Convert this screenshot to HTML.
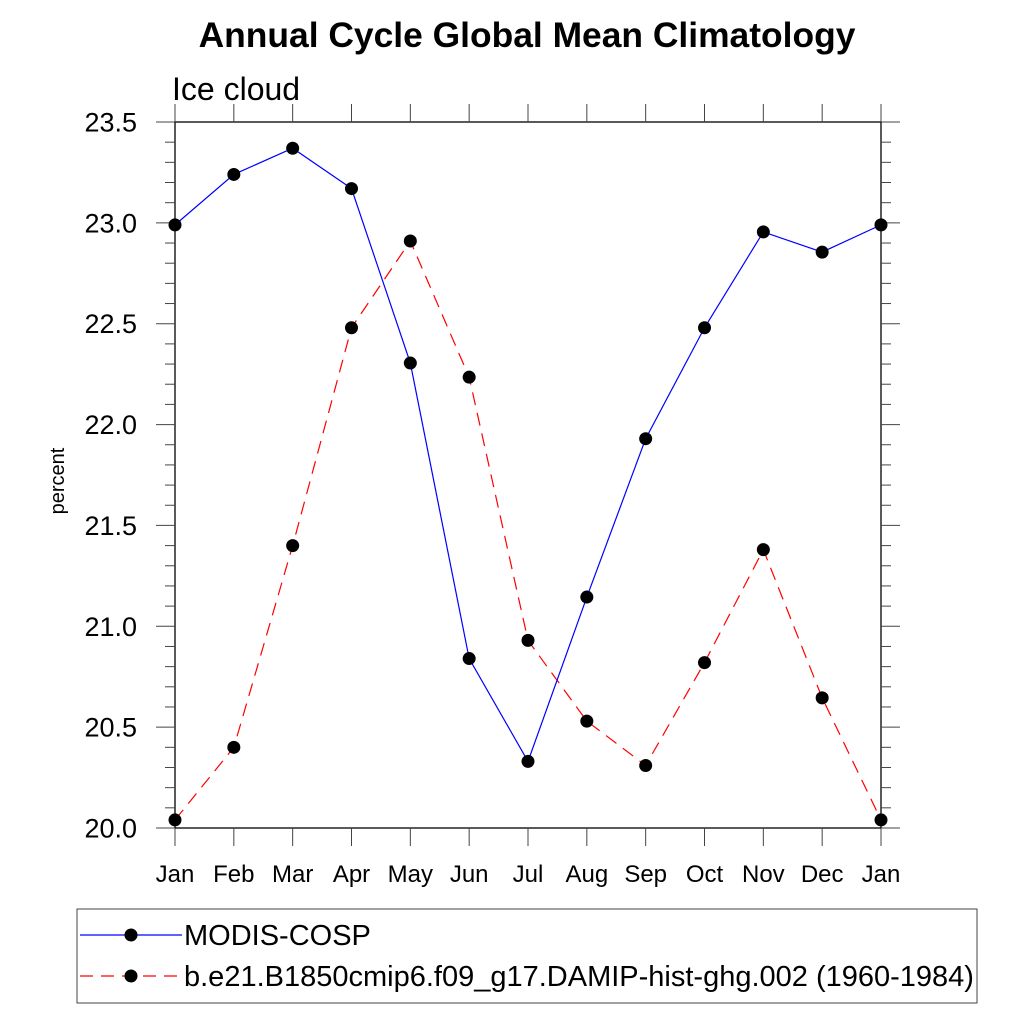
<!DOCTYPE html>
<html><head><meta charset="utf-8"><style>
html,body{margin:0;padding:0;background:#fff;}
svg text{font-family:"Liberation Sans",Arial,sans-serif;}
</style></head><body>
<svg id="chart" width="1024" height="1024" viewBox="0 0 1024 1024" xmlns="http://www.w3.org/2000/svg">
<text x="527" y="47" font-size="35.4" font-weight="bold" text-anchor="middle">Annual Cycle Global Mean Climatology</text>
<text x="172" y="100" font-size="32">Ice cloud</text>
<text transform="translate(64,481) rotate(-90)" font-size="20" text-anchor="middle">percent</text>
<g id="axes"></g>
<g id="series"></g>
<g>
<rect x="77" y="909" width="900" height="94" fill="none" stroke="#444" stroke-width="1"/>
<g>
<line x1="80" y1="935" x2="182" y2="935" stroke="#0000ff" stroke-width="1.2"/>
<circle cx="131" cy="935" r="6.5" fill="#000"/>
<text x="184" y="945" font-size="29">MODIS-COSP</text></g>
<g>
<line x1="80" y1="976" x2="182" y2="976" stroke="#ff0000" stroke-width="1.2" stroke-dasharray="13,8"/>
<circle cx="131" cy="976" r="6.5" fill="#000"/>
<text x="184" y="986" font-size="29">b.e21.B1850cmip6.f09_g17.DAMIP-hist-ghg.002 (1960-1984)</text></g>
</g>
</svg>
<script>
const months = ["Jan","Feb","Mar","Apr","May","Jun","Jul","Aug","Sep","Oct","Nov","Dec","Jan"];
const modis = [22.99,23.24,23.37,23.17,22.305,20.84,20.33,21.145,21.93,22.48,22.955,22.855,22.99];
const model = [20.04,20.40,21.40,22.48,22.91,22.235,20.93,20.53,20.31,20.82,21.38,20.645,20.04];
const yTicks = ["20.0","20.5","21.0","21.5","22.0","22.5","23.0","23.5"];

const NS="http://www.w3.org/2000/svg";
const L=175,R=881,T=122,B=828,yMin=20,yMax=23.5;
const xs=i=>L+(R-L)*i/(months.length-1);
const ys=v=>B-(v-yMin)/(yMax-yMin)*(B-T);
function mk(tag,attrs,parent){const e=document.createElementNS(NS,tag);for(const k in attrs)e.setAttribute(k,attrs[k]);parent.appendChild(e);return e;}
const ax=document.getElementById('axes');
const frame=mk('rect',{x:L,y:T,width:R-L,height:B-T,fill:'none',stroke:'#000','stroke-width':1.3},ax);


for(let k=0;k<=35;k++){const v=yMin+k*0.1;const y=ys(v);const major=k%5===0;const len=major?19:10;
 mk('line',{x1:L-len,y1:y,x2:L,y2:y,stroke:'#444','stroke-width':1},ax);
 mk('line',{x1:R,y1:y,x2:R+len,y2:y,stroke:'#444','stroke-width':1},ax);}
yTicks.forEach(t=>{const tx=mk('text',{x:137,y:ys(parseFloat(t))+9.5,'font-size':27,'text-anchor':'end'},ax);tx.textContent=t;
 
 });
months.forEach((m,i)=>{const x=xs(i);
 mk('line',{x1:x,y1:B,x2:x,y2:B+18,stroke:'#444','stroke-width':1},ax);
 mk('line',{x1:x,y1:T-18,x2:x,y2:T,stroke:'#444','stroke-width':1},ax);
 const tx=mk('text',{x:x,y:882,'font-size':24,'text-anchor':'middle'},ax);tx.textContent=m;
 
 });
const sg=document.getElementById('series');
function draw(vals,color,dash,name){
 const g=mk('g',{},sg);
 
 
 const pts=vals.map((v,i)=>xs(i)+','+ys(v)).join(' ');
 const pl=mk('polyline',{points:pts,fill:'none',stroke:color,'stroke-width':1.2},g);
 if(dash)pl.setAttribute('stroke-dasharray',dash);
 vals.forEach((v,i)=>{const c=mk('circle',{cx:xs(i),cy:ys(v),r:6.5,fill:'#000'},g);
  
  });
}
draw(model,'#ff0000','13,8','series-model');
draw(modis,'#0000ff',null,'series-modis');
</script>
</body></html>
